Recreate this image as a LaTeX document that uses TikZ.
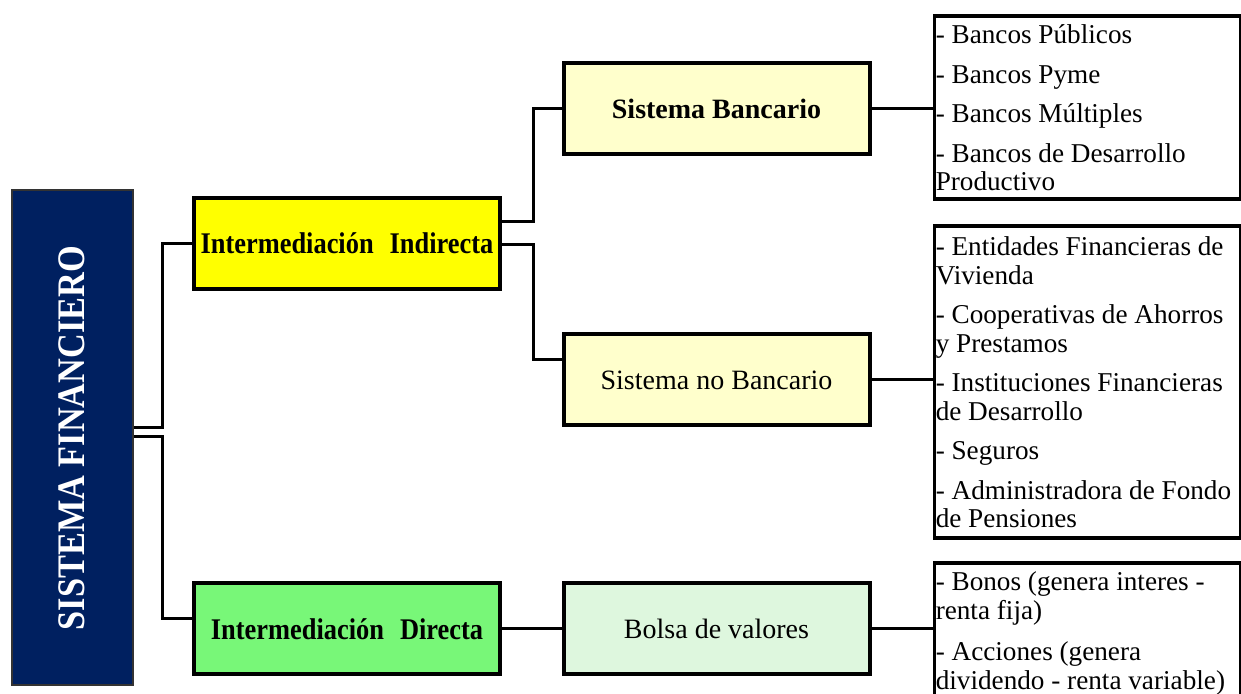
\documentclass[tikz,border=0pt]{standalone}
\usepackage{fontspec}
\setmainfont{Liberation Serif}
\newfontfamily\estrecha[FakeStretch=0.88]{Liberation Serif}
\usetikzlibrary{positioning}

\definecolor{azulsis}{RGB}{0,32,96}
\definecolor{amarillo}{RGB}{255,255,0}
\definecolor{amarilloclaro}{RGB}{255,255,204}
\definecolor{verde}{RGB}{120,247,120}
\definecolor{verdeclaro}{RGB}{222,247,222}

\tikzset{
     %set default line width to 0.75pt
    every picture/.style={line width=0.75pt},
    sis-box/.style={
        draw=black!80,
        fill=azulsis,
        line width=1pt,
        minimum width=60.5pt,
        minimum height=247.5pt,
    },
    nivel-box/.style={
        draw,
        line width=2pt,
        minimum width=153pt,
        minimum height=45.5pt,
        inner sep=0pt,
        align=center,
        font=\fontsize{14}{16}\selectfont,
    },
    inter-box/.style={
        nivel-box,
        font=\estrecha\bfseries\fontsize{15}{17}\selectfont,
    },
    lista-box/.style={
        draw,
        line width=1.75pt,
        anchor=north west,
        text width=151.5pt,
        inner xsep=0.75pt,
        inner ysep=1.25pt,
        align=flush left,
        font=\fontsize{13.6}{14.25}\selectfont,
    },
    enlace/.style={
        line width=1.5pt,
    }
}

\begin{document}
\begin{tikzpicture}[x=0.5pt,y=0.5pt,scale=1]
\useasboundingbox (0,0) rectangle (1241,694);

% Sistema financiero
\node[sis-box] (sis) at (72,256) {};
\node[rotate=90, text=white, font=\estrecha\bfseries\fontsize{19.5}{22}\selectfont] (sis-texto) at (sis.center) {SISTEMA FINANCIERO};

% Intermediacion
\node[inter-box, fill=amarillo] (ind) at (347,450.5) {Intermediación\hspace{8pt}Indirecta};
\node[inter-box, fill=verde] (dir) at (347,65) {Intermediación\hspace{8pt}Directa};

% Sistemas
\node[nivel-box, fill=amarilloclaro, font=\bfseries\fontsize{14}{16}\selectfont] (ban) at (716.5,585.5) {Sistema Bancario};
\node[nivel-box, fill=amarilloclaro] (noban) at (716.5,314) {Sistema no Bancario};
\node[nivel-box, fill=verdeclaro] (bolsa) at (716.5,65) {Bolsa de valores};

% Listas
\node[lista-box, minimum height=91.5pt] (lista-ban) at (932.5,679.5) {- Bancos Públicos\\[5.5pt]
- Bancos Pyme\\[5.5pt]
- Bancos Múltiples\\[5.5pt]
- Bancos de Desarrollo\\
Productivo};
\node[lista-box, minimum height=156pt] (lista-noban) at (932.5,469.5) {- Entidades Financieras de\\
Vivienda\\[5.5pt]
- Cooperativas de Ahorros\\
y Prestamos\\[5.5pt]
- Instituciones Financieras\\
de Desarrollo\\[5.5pt]
- Seguros\\[5.5pt]
- Administradora de Fondo\\
de Pensiones};
\node[lista-box, inner ysep=4.25pt] (lista-bolsa) at (932.5,132.5) {- Bonos (genera interes -\\
renta fija)\\[6.5pt]
- Acciones (genera\\
dividendo - renta variable)\\[6pt]
\mbox{}};

% Enlaces
\draw[enlace] ([yshift=5pt]sis.east) -- ++(28.5,0) |- (ind.west);
\draw[enlace] ([yshift=0.5pt]sis.east) -- ++(28.5,0) |- ([yshift=5.25pt]dir.west);
\draw[enlace] ([yshift=10.75pt]ind.east) -- ++(31,0) |- (ban.west);
\draw[enlace] ([yshift=-0.75pt]ind.east) -- ++(31,0) |- ([yshift=10pt]noban.west);
\draw[enlace] (dir.east) -- (bolsa.west);
\draw[enlace] (ban.east) -- (ban.east -| lista-ban.west);
\draw[enlace] (noban.east) -- (noban.east -| lista-noban.west);
\draw[enlace] (bolsa.east) -- (bolsa.east -| lista-bolsa.west);
\end{tikzpicture}
\end{document}
